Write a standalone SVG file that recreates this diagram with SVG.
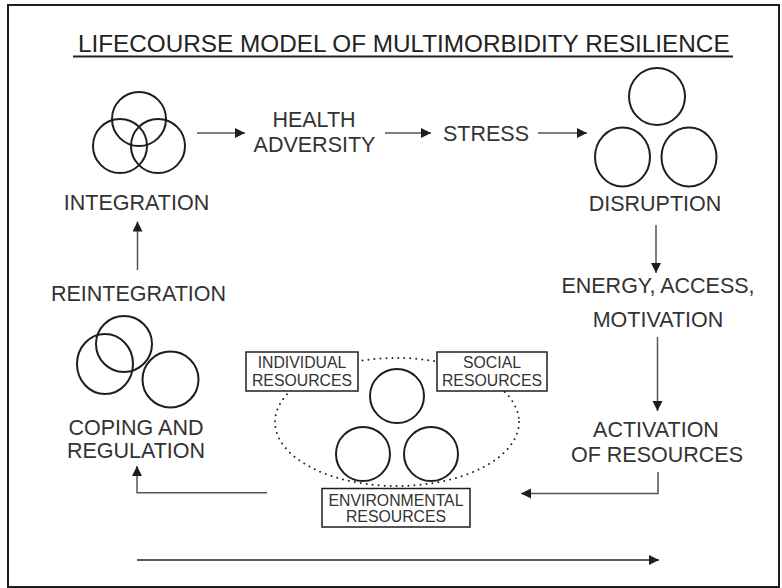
<svg xmlns="http://www.w3.org/2000/svg" width="782" height="588" viewBox="0 0 782 588">
  <defs>
    <marker id="head" markerUnits="userSpaceOnUse" markerWidth="11" markerHeight="11" refX="10" refY="5" orient="auto">
      <path d="M0,0 L10,5 L0,10 z" fill="#1e1e1e"/>
    </marker>
    <style>
      .lbl { font-family: "Liberation Sans", Arial, sans-serif; font-size: 21.5px; fill: #333; text-anchor: middle; }
      .small { font-family: "Liberation Sans", Arial, sans-serif; font-size: 15.8px; fill: #333; text-anchor: middle; }
      .ring { fill: none; stroke: #1e1e1e; stroke-width: 2; }
      .box { fill: #fff; stroke: #1e1e1e; stroke-width: 1.5; }
      .link { fill: none; stroke: #555; stroke-width: 1.5; marker-end: url(#head); }
    </style>
  </defs>

  <rect x="0" y="0" width="782" height="588" fill="#fff"/>
  <!-- outer frame -->
  <rect x="8" y="5" width="771" height="582" fill="none" stroke="#1e1e1e" stroke-width="2"/>

  <!-- title -->
  <g id="title">
    <text x="78" y="52" font-family="Liberation Sans, Arial, sans-serif" font-size="24.3" fill="#222">LIFECOURSE MODEL OF MULTIMORBIDITY RESILIENCE</text>
    <line x1="73" y1="56.5" x2="733" y2="56.5" stroke="#222" stroke-width="2"/>
  </g>

  <!-- connectors -->
  <g id="connectors">
    <path class="link" d="M197,133 H245"/>
    <path class="link" d="M385,133 H431"/>
    <path class="link" d="M538,133 H587"/>
    <path class="link" d="M656,225 V273"/>
    <path class="link" d="M657.5,337 V411"/>
    <path class="link" d="M658,472 V493.5 H521"/>
    <path class="link" d="M267,492.7 H137 V466"/>
    <path class="link" d="M137.5,270 V221.5"/>
    <path class="link" d="M137,560 H659" style="stroke:#222"/>
  </g>

  <!-- integration -->
  <g id="integration">
    <circle class="ring" cx="139" cy="119" r="27"/>
    <circle class="ring" cx="120" cy="146" r="27"/>
    <circle class="ring" cx="158" cy="146" r="27"/>
    <text class="lbl" x="136.5" y="210">INTEGRATION</text>
  </g>

  <g id="health-adversity">
    <text class="lbl" x="314" y="127">HEALTH</text>
    <text class="lbl" x="314.5" y="152">ADVERSITY</text>
  </g>

  <g id="stress">
    <text class="lbl" x="486" y="141">STRESS</text>
  </g>

  <!-- disruption -->
  <g id="disruption">
    <ellipse class="ring" cx="657" cy="96.5" rx="28" ry="28.5"/>
    <ellipse class="ring" cx="622.5" cy="157" rx="27.5" ry="29.5"/>
    <ellipse class="ring" cx="689" cy="157" rx="27.5" ry="29.5"/>
    <text class="lbl" x="655" y="210.5">DISRUPTION</text>
  </g>

  <g id="energy">
    <text class="lbl" x="658" y="293">ENERGY, ACCESS,</text>
    <text class="lbl" x="658" y="327">MOTIVATION</text>
  </g>

  <g id="activation">
    <text class="lbl" x="656" y="437">ACTIVATION</text>
    <text class="lbl" x="657" y="461.5">OF RESOURCES</text>
  </g>

  <!-- resources cluster -->
  <g id="resources">
    <ellipse cx="397" cy="422" rx="122" ry="64" fill="none" stroke="#222" stroke-width="2" stroke-dasharray="0 6" stroke-linecap="round"/>
    <circle class="ring" cx="397" cy="396" r="27"/>
    <circle class="ring" cx="363" cy="454" r="27"/>
    <circle class="ring" cx="431" cy="454" r="27"/>
  </g>

  <g id="individual-resources">
    <rect class="box" x="246" y="352" width="112" height="39"/>
    <text class="small" x="302" y="368">INDIVIDUAL</text>
    <text class="small" x="302" y="386">RESOURCES</text>
  </g>

  <g id="social-resources">
    <rect class="box" x="437" y="352" width="110" height="39"/>
    <text class="small" x="492" y="368">SOCIAL</text>
    <text class="small" x="492" y="386">RESOURCES</text>
  </g>

  <g id="environmental-resources">
    <rect class="box" x="322" y="488.5" width="148" height="38.5"/>
    <text class="small" x="396" y="505.5">ENVIRONMENTAL</text>
    <text class="small" x="396" y="521.5">RESOURCES</text>
  </g>

  <!-- coping -->
  <g id="coping">
    <circle class="ring" cx="124" cy="344" r="28"/>
    <ellipse class="ring" cx="105" cy="364" rx="28" ry="30"/>
    <circle class="ring" cx="170.5" cy="379.5" r="28"/>
    <text class="lbl" x="136" y="435">COPING AND</text>
    <text class="lbl" x="136" y="458">REGULATION</text>
  </g>

  <g id="reintegration">
    <text class="lbl" x="138.5" y="301">REINTEGRATION</text>
  </g>
</svg>
